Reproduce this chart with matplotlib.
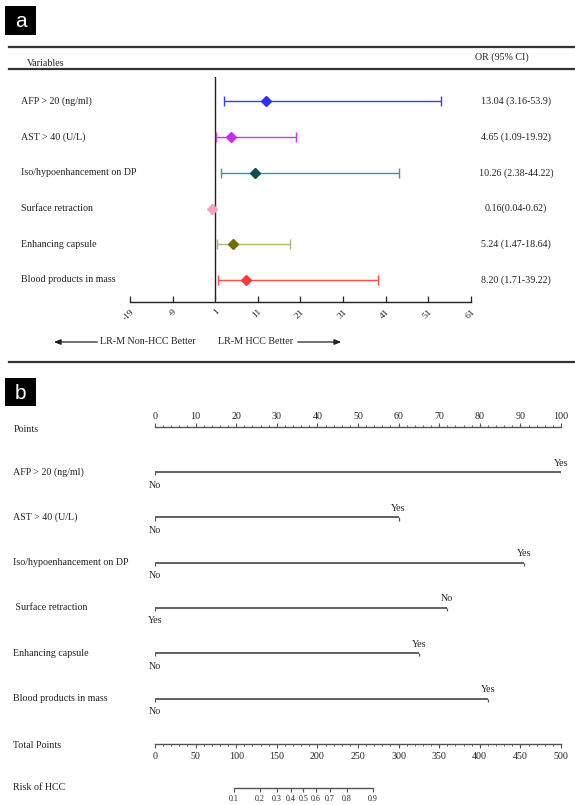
import matplotlib
matplotlib.use("Agg")
import matplotlib.pyplot as plt
from matplotlib.transforms import blended_transform_factory
from matplotlib.ticker import MultipleLocator, FixedLocator, NullLocator
from matplotlib.patches import Rectangle

# ---------------- data ----------------
variables = ["AFP > 20 (ng/ml)", "AST > 40 (U/L)", "Iso/hypoenhancement on DP",
             "Surface retraction", "Enhancing capsule", "Blood products in mass"]
or_vals = [13.04, 4.65, 10.26, 0.16, 5.24, 8.20]
ci_low = [3.16, 1.09, 2.38, 0.04, 1.47, 1.71]
ci_high = [53.9, 19.92, 44.22, 0.62, 18.64, 39.22]
or_text = ["13.04 (3.16-53.9)", "4.65 (1.09-19.92)", "10.26 (2.38-44.22)",
           "0.16(0.04-0.62)", "5.24 (1.47-18.64)", "8.20 (1.71-39.22)"]
line_colors = ["#3b3bff", "#c63ae8", "#4f8f9c", "#e7a3c4", "#b4b572", "#ff4a4a"]
diamond_colors = ["#2f2fee", "#c22fe6", "#0c4c54", "#f2a2c6", "#6e6e00", "#f23c3c"]
forest_ticks = [-19, -9, 1, 11, 21, 31, 41, 51, 61]
forest_tick_labels = ["-19", "-9", "1", "11", "21", "31", "41", "51", "61"]

nomo_vars = ["AFP > 20 (ng/ml)", "AST > 40 (U/L)", "Iso/hypoenhancement on DP",
             " Surface retraction", "Enhancing capsule", "Blood products in mass"]
nomo_points = [100, 60, 91, 72, 65, 82]
left_labels = ["No", "No", "No", "Yes", "No", "No"]
right_labels = ["Yes", "Yes", "Yes", "No", "Yes", "Yes"]
points_ticks = [0, 10, 20, 30, 40, 50, 60, 70, 80, 90, 100]
total_ticks = [0, 50, 100, 150, 200, 250, 300, 350, 400, 450, 500]
risk_ticks = [0.1, 0.2, 0.3, 0.4, 0.5, 0.6, 0.7, 0.8, 0.9]
risk_labels = ["0.1", "0.2", "0.3", "0.4", "0.5", "0.6", "0.7", "0.8", "0.9"]

# ---------------- figure ----------------
W, H = 575, 805
plt.rcParams['font.family'] = ['Liberation Serif', 'DejaVu Serif']
fig = plt.figure(figsize=(W / 100, H / 100), dpi=100)


def fx(px):
    return px / W


def fy(py):
    return 1 - py / H


FS = 7.2
TXT = "#222222"

# panel labels
for lab, y0, y1 in [("a", 6, 35), ("b", 378, 406)]:
    fig.patches.append(Rectangle((fx(5), fy(y1)), fx(36) - fx(5), fy(y0) - fy(y1),
                                 transform=fig.transFigure, facecolor="black",
                                 edgecolor="none"))
    fig.text(fx(20.5), fy((y0 + y1) / 2 + 1), lab, color="white", fontsize=15,
             family="Liberation Sans", ha="center", va="center")

# header lines
for yy in (47.5, 69.5, 362):
    fig.add_artist(plt.Line2D([fx(9), fx(575)], [fy(yy), fy(yy)], color="#333333",
                              lw=1.6, transform=fig.transFigure))
fig.text(fx(27), fy(63), "Variables", fontsize=FS, ha="left", va="center", color=TXT)
fig.text(fx(502), fy(57), "OR (95% CI)", fontsize=FS, ha="center", va="center", color=TXT)

# ---------------- forest plot ----------------
row0, drow = 101.5, 35.7
ax1 = fig.add_axes([fx(130), fy(302), 340.8 / W, (302 - 77) / H])
ax1.set_xlim(-19, 61)
ax1.set_ylim((302 - row0) / drow, (77 - row0) / drow)
for s in ("top", "left", "right"):
    ax1.spines[s].set_visible(False)
ax1.spines["bottom"].set_linewidth(1.0)
ax1.spines["bottom"].set_color("#222222")
ax1.set_yticks([])
ax1.set_xticks(forest_ticks)
ax1.set_xticklabels(forest_tick_labels, rotation=45, ha="right",
                    rotation_mode="anchor", fontsize=FS - 0.4, color=TXT)
ax1.tick_params(axis="x", direction="in", length=4, width=0.9, pad=4, color="#222222")
ax1.axvline(1, ymin=0.015, ymax=1, color="#222222", lw=1.0)

for i in range(len(variables)):
    ax1.errorbar(or_vals[i], i, xerr=[[or_vals[i] - ci_low[i]], [ci_high[i] - or_vals[i]]],
                 fmt="none", ecolor=line_colors[i], elinewidth=1.0, capsize=3.3,
                 capthick=1.0, zorder=2)
    ax1.plot(or_vals[i], i, marker="D", markersize=5, color=diamond_colors[i],
             markeredgecolor=diamond_colors[i], zorder=3)

tr1 = blended_transform_factory(fig.transFigure, ax1.transData)
for i, v in enumerate(variables):
    ax1.text(fx(21), i, v, transform=tr1, fontsize=FS, ha="left", va="center",
             color=TXT, clip_on=False)
    ax1.text(fx(516), i, or_text[i], transform=tr1, fontsize=FS, ha="center",
             va="center", color=TXT, clip_on=False)

# arrows
fig.text(fx(100), fy(342), "LR-M Non-HCC Better", fontsize=FS, ha="left", va="center", color=TXT)
fig.text(fx(218), fy(342), "LR-M HCC Better", fontsize=FS, ha="left", va="center", color=TXT)
fig.add_artist(matplotlib.patches.FancyArrowPatch((fx(100), fy(342)), (fx(51), fy(342)),
               transform=fig.transFigure, arrowstyle="-|>,head_length=4,head_width=1.6",
               color="#222222", lw=0.9, mutation_scale=1))
fig.add_artist(matplotlib.patches.FancyArrowPatch((fx(295), fy(342)), (fx(344), fy(342)),
               transform=fig.transFigure, arrowstyle="-|>,head_length=4,head_width=1.6",
               color="#222222", lw=0.9, mutation_scale=1))

# ---------------- nomogram ----------------
NX0, NX1 = 155, 561
GRAY = "#555555"
nrow0, ndrow = 472, 45.3

# Points axis
axP = fig.add_axes([fx(NX0), fy(427), (NX1 - NX0) / W, 0.0005])
axP.set_xlim(0, 100)
axP.patch.set_visible(False)
for s in ("bottom", "left", "right"):
    axP.spines[s].set_visible(False)
axP.spines["top"].set_color(GRAY)
axP.spines["top"].set_linewidth(1.0)
axP.spines["top"].set_bounds(0, 100)
axP.set_yticks([])
axP.xaxis.set_ticks_position("top")
axP.xaxis.set_label_position("top")
axP.set_xticks(points_ticks)
axP.set_xticklabels([str(t) for t in points_ticks], fontsize=FS, color=TXT)
axP.xaxis.set_minor_locator(MultipleLocator(2))
axP.tick_params(axis="x", which="major", direction="out", length=2.6, width=0.8,
                color=GRAY, pad=1.5)
axP.tick_params(axis="x", which="minor", direction="out", length=1.6, width=0.7, color=GRAY)
fig.text(fx(14), fy(429), "Points", fontsize=FS, ha="left", va="center", color=TXT)

# variable rows
axN = fig.add_axes([fx(NX0), fy(730), (NX1 - NX0) / W, (730 - 440) / H])
axN.set_xlim(0, 100)
axN.set_ylim((730 - nrow0) / ndrow, (440 - nrow0) / ndrow)
axN.axis("off")
trN = blended_transform_factory(fig.transFigure, axN.transData)
tk = 3.2 / ndrow
for i in range(len(nomo_vars)):
    p = nomo_points[i]
    axN.plot([0, p], [i, i], color=GRAY, lw=1.3, solid_capstyle="butt")
    axN.vlines([0, p], i, i + tk, color=GRAY, lw=0.9)
    axN.text(0, i + 13 / ndrow, left_labels[i], fontsize=FS, ha="center", va="center",
             color=TXT)
    axN.text(p, i - 9 / ndrow, right_labels[i], fontsize=FS, ha="center", va="center",
             color=TXT)
    axN.text(fx(13), i, nomo_vars[i], transform=trN, fontsize=FS, ha="left",
             va="center", color=TXT)

# Total points axis
axT = fig.add_axes([fx(NX0), fy(744), (NX1 - NX0) / W, 0.0005])
axT.set_xlim(0, 500)
axT.patch.set_visible(False)
for s in ("top", "left", "right"):
    axT.spines[s].set_visible(False)
axT.spines["bottom"].set_color(GRAY)
axT.spines["bottom"].set_linewidth(1.0)
axT.spines["bottom"].set_bounds(0, 500)
axT.set_yticks([])
axT.set_xticks(total_ticks)
axT.set_xticklabels([str(t) for t in total_ticks], fontsize=FS, color=TXT)
axT.xaxis.set_minor_locator(MultipleLocator(10))
axT.tick_params(axis="x", which="major", direction="out", length=2.6, width=0.8,
                color=GRAY, pad=3.5)
axT.tick_params(axis="x", which="minor", direction="out", length=1.6, width=0.7, color=GRAY)
fig.text(fx(13), fy(745), "Total Points", fontsize=FS, ha="left", va="center", color=TXT)

# Risk axis (logit scale)
axR = fig.add_axes([fx(NX0), fy(788), (NX1 - NX0) / W, 0.0005])
axR.set_xscale("logit")
axR.set_xlim(0.009013, 0.999715)
axR.patch.set_visible(False)
for s in ("top", "left", "right"):
    axR.spines[s].set_visible(False)
axR.spines["bottom"].set_color(GRAY)
axR.spines["bottom"].set_linewidth(1.0)
axR.spines["bottom"].set_bounds(0.1, 0.9)
axR.set_yticks([])
axR.xaxis.set_major_locator(FixedLocator(risk_ticks))
axR.xaxis.set_minor_locator(NullLocator())
axR.set_xticklabels(risk_labels, fontsize=5.8, color=TXT)
axR.tick_params(axis="x", which="major", direction="out", length=2.6, width=0.8,
                color=GRAY, pad=2.5)
fig.text(fx(13), fy(787), "Risk of HCC", fontsize=FS, ha="left", va="center", color=TXT)

fig.savefig("out.png", dpi=100)
